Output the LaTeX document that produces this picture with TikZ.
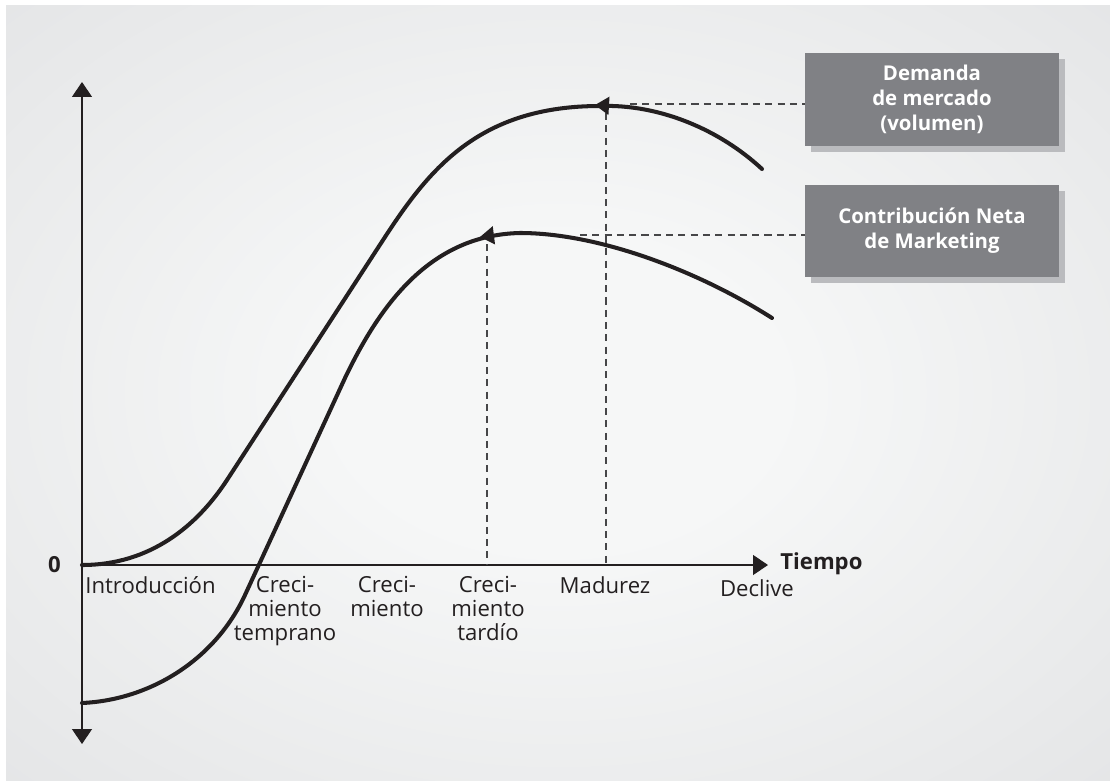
\documentclass[tikz,border=0pt]{standalone}
\usepackage{fontspec}
\setmainfont{Open Sans}
\usetikzlibrary{arrows.meta, shadows, positioning}
\definecolor{panel_out}{RGB}{219,220,222}
\definecolor{panel_in}{RGB}{246,247,247}
\definecolor{box_gray}{RGB}{128,129,133}
\definecolor{box_shadow}{RGB}{186,187,190}
\definecolor{ink}{RGB}{35,31,32}
\definecolor{dash_gray}{RGB}{70,70,72}
\pgfdeclareradialshading{panelshade}{\pgfpoint{0bp}{0bp}}{color(0bp)=(panel_in); color(10bp)=(panel_in); color(50bp)=(panel_out); color(72bp)=(panel_out)}
\tikzset {
  axis/.style = {draw=ink, line width=0.8pt, >={Triangle[length=0.3cm, width=0.4cm]}},
  curve/.style = {draw=ink, line width=2.3pt, line cap=round},
  tip/.style = {draw=ink, line width=1pt, -{Triangle[length=0.28cm, width=0.36cm]}},
  guide/.style = {draw=dash_gray, line width=0.7pt, dash pattern=on 4pt off 3pt},
  stage/.style = {font=\fontsize{12.6}{13.6}\selectfont, text=ink, align=center, inner sep=0pt, anchor=north},
  tag/.style = {fill=box_gray, text=white, font=\fontsize{11.6}{14.2}\selectfont\bfseries, align=center, minimum width=5.08cm, drop shadow={shadow xshift=0.12cm, shadow yshift=-0.12cm, fill=box_shadow, opacity=1}}
}

\begin{document}
\begin{tikzpicture}[x=0.02cm, y=-0.02cm]
    \useasboundingbox (0,0) rectangle (1110,781);
    \fill[white] (0,0) rectangle (1110,781);
    \shade[shading=panelshade] (6,5) rectangle (1110,781);

    % axes
    \coordinate (origin) at (82,565);
    \coordinate (ytop) at (82,82);
    \coordinate (ybot) at (82,744);
    \coordinate (xend) at (768,565);
    \draw[axis, <->] (ybot) -- (ytop);
    \draw[axis, ->] (origin) -- (xend);
    \node[font=\fontsize{12.6}{14}\selectfont\bfseries, text=ink, left=0.3cm of origin] (zero) {0};
    \node[font=\fontsize{12.6}{14}\selectfont\bfseries, text=ink, anchor=west, inner sep=0pt] (tiempo) at (780,564) {Tiempo};

    % stages
    \node[stage, anchor=north west] (intro) at (85,576) {Introducción};
    \node[stage] (early) at (285,576) {Creci-\\miento\\temprano};
    \node[stage] (growth) at (387,576) {Creci-\\miento};
    \node[stage] (late) at (488,576) {Creci-\\miento\\tardío};
    \node[stage] (mature) at (605,576) {Madurez};
    \node[stage] (decline) at (757,579) {Declive};

    % boxes
    \node[tag, minimum height=1.86cm] (dem) at (932,99.5) {Demanda\\de mercado\\(volumen)};
    \node[tag, minimum height=1.84cm, below=0.76cm of dem] (cnm) {Contribución Neta\\de Marketing};

    % guides
    \coordinate (matD) at (606,113);
    \coordinate (demD) at (630,104);
    \coordinate (lateC) at (487,244);
    \coordinate (cnmC) at (580,235);
    \draw[guide] (matD) -- (matD |- origin);
    \draw[guide] (demD) -- (demD -| dem.west);
    \draw[guide] (lateC) -- (lateC |- origin);
    \draw[guide] (cnmC) -- (cnmC -| cnm.west);

    % curves
    \draw[curve] (82,565) .. controls (150,565) and (197,526) .. (227,480)
        -- (385,237) .. controls (430,168) and (480,106) .. (600,106)
        .. controls (660,104) and (720,130) .. (762,169);
    \draw[curve] (82,703) .. controls (150,700) and (215,660) .. (245,595)
        -- (345,378) .. controls (380,305) and (430,235) .. (520,233)
        .. controls (600,233) and (700,272) .. (772,318);
    \draw[tip] (612,106) -- (595,105);
    \draw[tip] (496,235) -- (480,237);
\end{tikzpicture}
\end{document}
